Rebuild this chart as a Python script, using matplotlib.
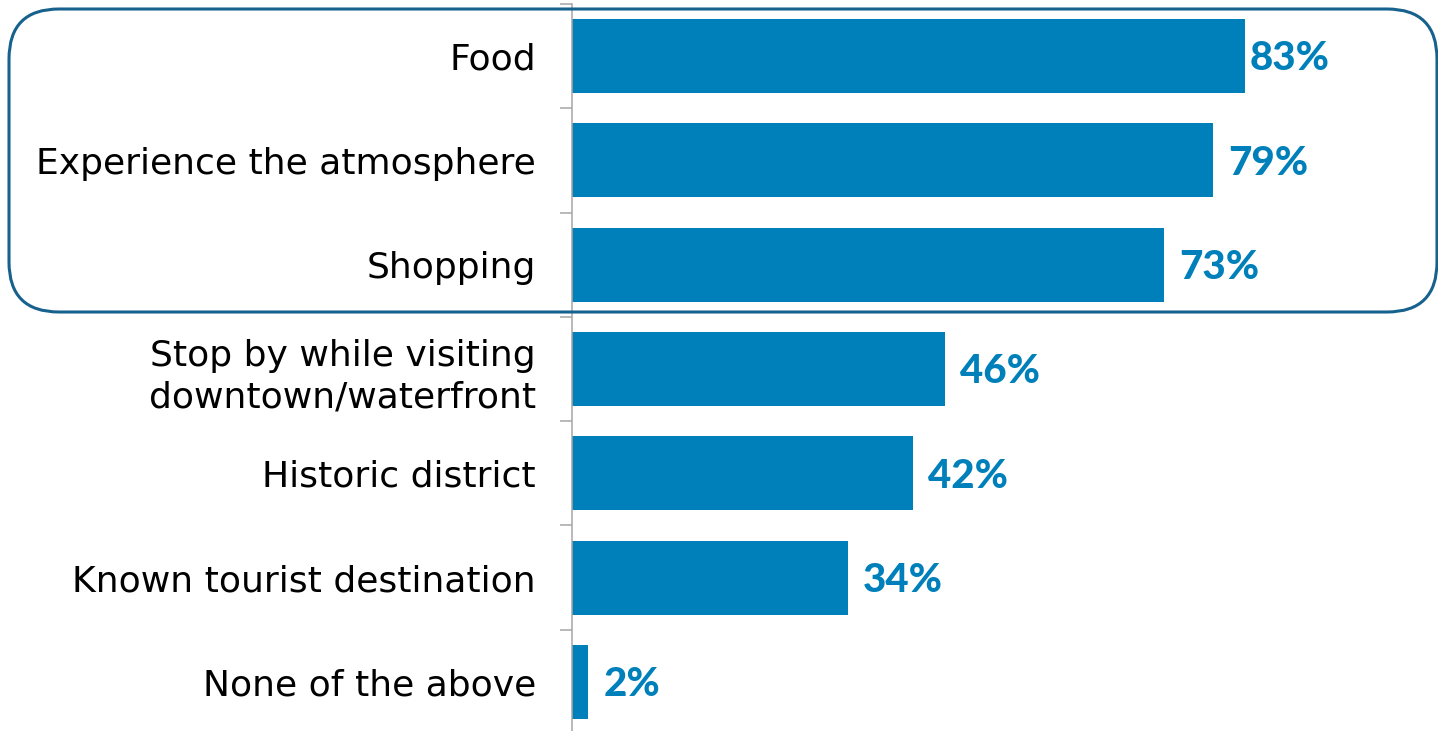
import matplotlib.pyplot as plt
from matplotlib.patches import FancyBboxPatch

categories = [
    "Food",
    "Experience the atmosphere",
    "Shopping",
    "Stop by while visiting\ndowntown/waterfront",
    "Historic district",
    "Known tourist destination",
    "None of the above",
]
values = [83, 79, 73, 46, 42, 34, 2]
label_pad = [3, 11, 11, 11, 11, 11, 11]

bar_color = "#0080BA"
box_color = "#16618E"

fig = plt.figure(figsize=(14.38, 7.31), dpi=100)
ax = fig.add_axes([572 / 1438, -3 / 731, 1 - 572 / 1438, 730 / 731])

y = range(len(categories))
ax.barh(y, values, height=0.71, color=bar_color)
ax.set_ylim(len(categories) - 0.5, -0.5)
ax.set_xlim(0, 106.8)

for i, v in enumerate(values):
    ax.annotate(f"{v}%", (v, i), xytext=(label_pad[i], -2), textcoords="offset points",
                va="center", ha="left", fontsize=29, fontweight=900,
                color=bar_color, family="Lato")

ax.set_yticks(list(y))
ax.set_yticklabels(categories, fontsize=26, family="DejaVu Sans", linespacing=1.3)
ax.set_yticks([i - 0.5 for i in range(len(categories) + 1)], minor=True)
ax.tick_params(axis="y", which="major", length=0, pad=26)
ax.tick_params(axis="y", which="minor", length=8.6, width=1.1, color="#A6A6A6")
ax.tick_params(axis="x", bottom=False, labelbottom=False)
for s in ["top", "right", "bottom"]:
    ax.spines[s].set_visible(False)
ax.spines["left"].set_color("#A6A6A6")
ax.spines["left"].set_linewidth(1.1)

# rounded frame around the top three reasons (inch units keep the corners round)
box = FancyBboxPatch((9 / 100, (731 - 312) / 100), (1437 - 9) / 100, (312 - 9) / 100,
                     boxstyle="round,pad=0,rounding_size=0.5",
                     transform=fig.dpi_scale_trans, fill=False,
                     edgecolor=box_color, linewidth=2.2, clip_on=False)
fig.patches.append(box)

fig.savefig("out.png", dpi=100)
